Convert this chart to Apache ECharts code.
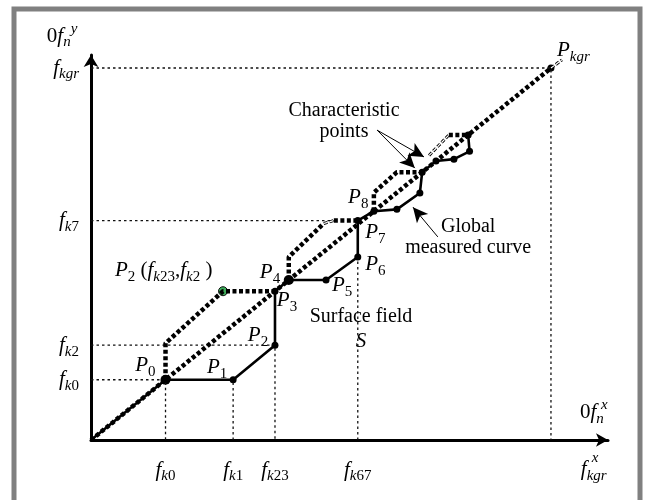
<!DOCTYPE html>
<html>
<head>
<meta charset="utf-8">
<script src="https://cdn.jsdelivr.net/npm/echarts@6.0.0/dist/echarts.min.js"></script>
<style>
  html, body { margin: 0; padding: 0; background: #fff; }
  #chart { width: 646px; height: 500px; }
</style>
</head>
<body>
<div id="chart"></div>
<script>
// diagram units: both axes run 0..100 up to f_kgr, so the ideal curve is y = x
const idealLine = [[0, 0], [100, 100]];
const idealTail = [[100, 100], [102.4, 102.2]];

const measuredCurve = [
  [0, 0], [16.2, 16.2], [30.9, 16.2], [40, 25.5], [40, 40], [43, 43],
  [51.1, 43], [58, 49.2], [58, 59], [61.5, 61.5], [66.5, 62], [71.5, 66.4],
  [72, 72], [75, 75], [78.9, 75.5], [82.3, 77.6], [82, 82]
];
const bigPoints = [[16.2, 16.2], [43, 43]];
const kgrPoint = [[100, 100]];
const p2Point = [[28.7, 40]];

// thick dotted "upper" path pieces and the thin hollow-dashed pieces
const envelopeThick = [
  [[16.2, 16.2], [16.2, 26], [28.7, 40], [40, 40]],
  [[43, 43], [43, 49.2], [50.6, 58.2]],
  [[52.8, 59], [58, 59]],
  [[61.5, 61.5], [61.5, 66.5], [66.5, 72], [72, 72]],
  [[77.8, 82], [82, 82]]
];
const envelopeThin = [
  [[50.6, 58.2], [52.8, 59]],
  [[73.5, 76.5], [77.8, 82]],
  idealTail
];

const guideLines = [
  [[0, 100], [100, 100], [100, 0]],
  [[0, 59], [52.8, 59]],
  [[0, 25.5], [40, 25.5], [40, 0]],
  [[0, 16.2], [16.2, 16.2], [16.2, 0]],
  [[30.9, 0], [30.9, 16.2]],
  [[58, 0], [58, 49.2]]
];

const xTickValues = [16.2, 30.9, 40, 58];
const xTickSubs = ['k0', 'k1', 'k23', 'k67'];
const yTickValues = [16.2, 25.5, 59, 100];
const yTickSubs = ['k0', 'k2', 'k7', 'kgr'];

const pointNames = ['0', '1', '2', '3', '4', '5', '6', '7', '8'];
const pointLabelAt = [
  [9.6, 20.0], [25.2, 19.5], [34.1, 28.1], [40.4, 37.5], [36.7, 45.0],
  [52.4, 41.5], [59.6, 47.2], [59.6, 55.8], [55.9, 65.2]
];

// annotation arrows: [from, to]
const arrows = [
  [[62.2, 83.3], [70.4, 73.1]],
  [[62.2, 83.3], [72.4, 76.1]],
  [[75.4, 54.6], [70.0, 62.6]]
];

const FONT = '"Liberation Serif", "Times New Roman", serif';
const rich = {
  i: { fontFamily: FONT, fontStyle: 'italic', fontSize: 21, color: '#000' },
  r: { fontFamily: FONT, fontSize: 21, color: '#000' },
  si: { fontFamily: FONT, fontStyle: 'italic', fontSize: 15, color: '#000', padding: [13, 0, 0, 0] },
  sn: { fontFamily: FONT, fontSize: 15, color: '#000', padding: [13, 0, 0, 0] },
  sp: { fontFamily: FONT, fontStyle: 'italic', fontSize: 15, color: '#000', padding: [0, 0, 14, 0] },
  x: { fontFamily: FONT, fontStyle: 'italic', fontSize: 15, color: '#000' },
  t: { fontFamily: FONT, fontSize: 20, color: '#000', lineHeight: 21 }
};

function sub(s) {
  return s.replace(/(\d+)|(\D+)/g, (m, d, l) => d ? '{sn|' + d + '}' : '{si|' + l + '}');
}
function sym(main, lower, upper) {
  return '{i|' + main + '}' + (lower ? sub(lower) : '') + (upper ? '{sp|' + upper + '}' : '');
}

const notes = [
  { text: '{r|0}' + sym('f', 'n', 'y'), at: [-9.6, 108.6], align: 'left' },
  { text: '{r|0}' + sym('f', 'n'), at: [106.3, 7.5], align: 'left' },
  { text: '{x|x}', at: [111.6, 9.4], align: 'center' },
  { text: sym('f', 'kgr'), at: [109.3, -8.0], align: 'center' },
  { text: '{x|x}', at: [109.6, -4.8], align: 'center' },
  { text: sym('P', 'kgr'), at: [101.3, 104.8], align: 'left' },
  { text: sym('P', '2') + '{r| (}' + sym('f', 'k23') + '{r|,}' + sym('f', 'k2') + '{r| )}', at: [5.2, 45.6], align: 'left' },
  { text: '{t|Surface field}', at: [58.7, 33.1], align: 'center', bg: true },
  { text: '{i|S}', at: [58.7, 26.6], align: 'center', bg: true },
  { text: '{t|Characteristic}\n{t|points}', at: [55.0, 85.8], align: 'center' },
  { text: '{t|Global}\n{t|measured curve}', at: [82.0, 54.6], align: 'center' }
].concat(pointNames.map((n, k) => ({ text: sym('P', n), at: pointLabelAt[k], align: 'left' })));

const chart = echarts.init(document.getElementById('chart'));

const series = [];
guideLines.forEach(g => series.push({
  type: 'line', data: g, symbol: 'none', silent: true,
  lineStyle: { color: '#111', width: 1.3, type: [2.5, 3] }
}));
series.push({
  type: 'line', data: measuredCurve, symbol: 'none',
  lineStyle: { color: '#000', width: 2.6 }
});
series.push({
  type: 'line', data: idealLine, symbol: 'none',
  lineStyle: { color: '#000', width: 4.5, type: [4, 2.5], cap: 'butt' }
});
envelopeThick.forEach(e => series.push({
  type: 'line', data: e, symbol: 'none',
  lineStyle: { color: '#000', width: 4.5, type: [4, 2.5], cap: 'butt' }
}));
envelopeThin.forEach(e => {
  series.push({ type: 'line', data: e, symbol: 'none', lineStyle: { color: '#000', width: 3, type: [4, 2] } });
  series.push({ type: 'line', data: e, symbol: 'none', lineStyle: { color: '#fff', width: 1.2, type: [4, 2] } });
});
series.push({
  type: 'scatter', data: measuredCurve.slice(1), symbolSize: 7,
  itemStyle: { color: '#000', opacity: 1 }
});
series.push({ type: 'scatter', data: bigPoints, symbolSize: 10, itemStyle: { color: '#000', opacity: 1 } });
series.push({ type: 'scatter', data: kgrPoint, symbolSize: 7, itemStyle: { color: '#000', opacity: 1 } });
series.push({
  type: 'scatter', data: p2Point, symbolSize: 9,
  itemStyle: { color: '#3fae5c', borderColor: '#111', borderWidth: 1, opacity: 1 }
});
series.push({
  type: 'line', data: [], symbol: 'none',
  markLine: {
    silent: true, animation: false,
    symbol: ['none', 'arrow'], symbolSize: [11, 15],
    label: { show: false },
    lineStyle: { type: 'solid', color: '#000', width: 1 },
    data: arrows.map(a => [{ coord: a[0] }, { coord: a[1] }])
  }
});
series.push({
  type: 'scatter', clip: false, symbolSize: 1,
  itemStyle: { color: 'rgba(0,0,0,0)', opacity: 1 },
  data: notes.map(n => ({
    value: n.at,
    label: n.bg ? { align: n.align, backgroundColor: '#fff', padding: [0, 2] } : { align: n.align }
  })),
  label: {
    show: true, position: 'inside', verticalAlign: 'middle', color: '#000',
    textBorderWidth: 0,
    formatter: p => notes[p.dataIndex].text, rich: rich
  }
});

chart.setOption({
  animation: false,
  backgroundColor: '#fff',
  graphic: [{
    type: 'rect', silent: true, z: 100,
    shape: { x: 14, y: 9, width: 626, height: 530 },
    style: { fill: 'none', stroke: '#808080', lineWidth: 5 }
  }],
  grid: { left: 91, right: 38, top: 55, bottom: 60 },
  xAxis: {
    type: 'value', min: 0, max: 112.4,
    splitLine: { show: false }, axisTick: { show: false },
    axisLine: { symbol: ['none', 'arrow'], symbolSize: [10, 12], lineStyle: { color: '#000', width: 3 } },
    axisLabel: {
      customValues: xTickValues, margin: 16,
      formatter: v => sym('f', xTickSubs[xTickValues.indexOf(v)]), rich: rich
    }
  },
  yAxis: {
    type: 'value', min: 0, max: 103.5,
    splitLine: { show: false }, axisTick: { show: false },
    axisLine: { symbol: ['none', 'arrow'], symbolSize: [11, 12], lineStyle: { color: '#000', width: 3 } },
    axisLabel: {
      customValues: yTickValues, margin: 12,
      formatter: v => sym('f', yTickSubs[yTickValues.indexOf(v)]), rich: rich
    }
  },
  series: series
});
</script>
</body>
</html>
